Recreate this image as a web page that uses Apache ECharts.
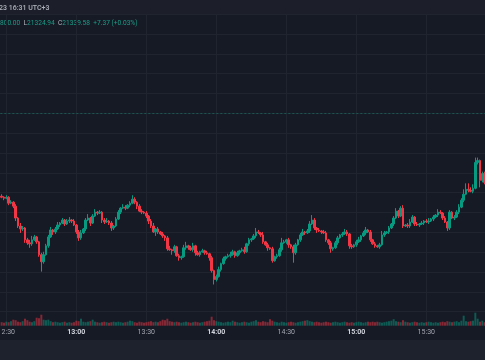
<!DOCTYPE html>
<html><head><meta charset="utf-8">
<script src="https://cdn.jsdelivr.net/npm/echarts@6/dist/echarts.min.js"></script>
<style>html,body{margin:0;padding:0;background:#161a25;overflow:hidden}#c{width:485px;height:360px}</style>
</head><body><div id="c"></div>
<script>
// ---- data (1-minute candles, first one at 12:28) ----
const startMinute = 28;          // minutes after 12:00
const firstOpen = 21328.2;
const closes = [
21327.7,21327.2,21327.7,21324.7,21325.2,21323.2,21317.2,21313.2,21311.7,21312.2,
21306.2,21304.7,21304.2,21306.2,21307.7,21305.2,21298.7,21295.2,21298.7,21303.2,
21307.7,21311.2,21310.2,21311.7,21313.7,21314.7,21316.2,21314.2,21315.7,21316.2,
21315.7,21313.7,21310.2,21307.2,21309.7,21311.7,21316.2,21317.2,21314.7,21318.2,
21320.2,21319.7,21320.2,21316.2,21315.2,21315.7,21314.7,21312.2,21313.2,21316.7,
21320.2,21322.2,21322.7,21322.2,21323.7,21324.7,21326.7,21325.2,21323.2,21320.7,
21320.2,21319.7,21318.2,21315.7,21313.2,21310.2,21311.7,21310.2,21309.2,21308.2,
21307.2,21301.7,21301.2,21300.7,21302.7,21298.2,21297.2,21297.7,21302.2,21303.2,
21302.2,21301.2,21303.2,21299.7,21298.7,21300.2,21300.7,21299.7,21299.2,21297.2,
21290.7,21286.2,21287.7,21291.2,21294.2,21296.7,21297.7,21298.2,21298.7,21300.2,
21298.2,21299.7,21300.7,21301.2,21300.2,21304.2,21306.2,21306.7,21308.2,21310.2,
21309.7,21308.7,21305.2,21303.7,21302.2,21301.7,21295.7,21297.7,21298.2,21301.2,
21304.7,21305.2,21306.2,21303.7,21302.7,21299.7,21303.7,21306.2,21308.7,21310.2,
21309.7,21310.7,21314.2,21316.2,21312.2,21311.2,21310.7,21310.2,21309.7,21306.2,
21304.7,21301.7,21302.2,21304.7,21307.2,21308.7,21309.2,21310.2,21309.2,21303.2,
21302.7,21303.7,21305.2,21306.2,21308.2,21309.7,21311.2,21310.2,21306.2,21304.2,
21303.2,21302.7,21303.7,21308.7,21309.7,21310.2,21312.2,21314.2,21317.2,21320.7,
21318.2,21322.2,21313.2,21313.7,21313.2,21315.2,21317.7,21314.2,21313.7,21314.2,
21314.7,21315.7,21315.2,21315.7,21316.7,21317.7,21318.7,21320.2,21319.7,21317.2,
21315.2,21312.2,21320.2,21317.2,21317.7,21320.2,21322.7,21326.2,21329.2,21331.7,
21331.2,21330.7,21332.2,21345.2,21346.2,21336.2,21339.6,21335.2
];
const upperWicks = [
1,0.5,1,0.5,1,0.5,1,0.5,1.5,1, 0.5,1,1.5,2,1,0.5,0.5,1,1.5,1,
1,1.5,0.5,1,1.5,0.5,1,0.5,1,1.5, 0.5,1,0.5,1,1.5,0.5,1,2,0.5,1,
1.5,0.5,1,0.5,1,1.5,0.5,1,0.5,1, 1,0.5,1.5,1,0.5,1,2,1,0.5,1,
1,0.5,1,0.5,1,1.5,0.5,1,0.5,1, 0.5,1,1.5,0.5,1,0.5,1,0.5,1.5,2,
0.5,1,1.5,0.5,1,0.5,1,0.5,1,0.5, 1,0.5,1,1.5,0.5,1,0.5,1,1.5,1,
0.5,1,0.5,1,1.5,0.5,1,0.5,1,2, 1,0.5,1.5,0.5,1,0.5,1,0.5,1,1,
2.5,1,0.5,1,0.5,1,1,0.5,1,1.5, 0.5,1,1.5,2.5,1,0.5,1,0.5,1,1,
0.5,1,0.5,1,1,0.5,1,1.5,1,0.5, 1,0.5,1,1.5,0.5,1,1.5,0.5,1,0.5,
1,0.5,1,2,1,0.5,1,0.5,1,1.5, 0.5,1,1.5,0.5,1,1.5,1,0.5,1,0.5,
1,0.5,1,1.5,0.5,1,0.5,1.5,1,0.5, 1,0.5,1,0.5,1,1,1.5,1,2.5,3,
3,1.5,2,2.5,1.5,0.5,1,1
];
const lowerWicks = [
0.5,1,0.5,1,0.5,1,1.5,1,2,1, 1.5,1,2,1,0.5,1,1,5,1,0.5,
1,0.5,1.5,1,0.5,1,0.5,1,0.5,1, 1,0.5,1,1.5,1,0.5,1,0.5,1.5,0.5,
0.5,1,0.5,1.5,1,0.5,1,1.5,1,0.5, 0.5,1,0.5,1,0.5,1,0.5,1,1.5,0.5,
1,0.5,1,1.5,1,0.5,2,1,0.5,1, 1.5,1,0.5,2,1,0.5,1.5,1,0.5,1,
1,0.5,1,1.5,0.5,1,0.5,1,0.5,1.5, 1,2.5,1,0.5,1,0.5,1,0.5,1,0.5,
1,0.5,1,0.5,1,0.5,1,1,0.5,1, 0.5,1,1,0.5,1.5,0.5,1,0.5,1,0.5,
1,0.5,1,1.5,1,5,1,0.5,1,0.5, 1,0.5,1,0.5,1,1.5,0.5,1,0.5,1,
1,2,1,0.5,1,0.5,1,0.5,1,1.5, 1,0.5,1,0.5,1,0.5,1,0.5,1,0.5,
1,0.5,1,0.5,1,0.5,1,0.5,1,0.5, 1,0.5,1,0.5,1,1,0.5,1,0.5,1,
0.5,1,0.5,1,0.5,1,0.5,1,0.5,1, 0.5,1.5,1,0.5,1,0.5,1,0.5,1,0.5,
1,0.5,1,0.5,1,3.5,1,1
];
const volumes = [
350,300,400,350,450,600,550,400,350,450, 700,550,400,350,450,800,750,1100,600,550,
600,450,350,400,350,300,350,400,300,350, 300,350,500,450,700,400,350,400,450,600,
400,350,300,350,400,350,300,350,400,350, 400,350,300,350,400,500,450,350,300,400,
350,300,350,400,450,350,400,350,450,600, 550,700,450,400,350,400,350,300,350,400,
350,300,350,400,350,300,350,400,450,500, 900,550,450,400,350,300,350,400,350,500,
400,350,300,350,400,350,300,400,450,550, 400,350,450,400,350,650,500,400,350,300,
400,350,300,350,400,350,300,350,400,450, 500,550,450,400,350,400,350,300,350,400,
350,300,350,400,350,300,350,400,350,300, 350,300,350,400,350,300,350,400,350,400,
350,400,350,300,350,400,450,500,650,450, 400,350,550,400,350,300,350,400,350,300,
350,300,350,400,350,300,350,300,350,400, 350,450,400,350,400,450,350,500,1000,450,
400,450,500,1300,700,400,500,350
];
const timeTicks = ['12:00','12:30','13:00','13:30','14:00','14:30','15:00','15:30','16:00'];
const prevCloseLevel = 21370;
const headerText = '23 16:31 UTC+3';
const legendText = '{u|800.00}  {g|L}{u|21324.94}  {g|C}{u|21339.58}  {u|+7.37 (+0.03%)}';

// ---- build ----
const UP = '#089981', DOWN = '#f23645';
const UPV = 'rgba(8,153,129,0.5)', DOWNV = 'rgba(242,54,69,0.5)';
const GRID = '#20242f';
const candles = [], vols = [];
closes.forEach((c, i) => {
  const o = i ? closes[i-1] : firstOpen;
  const h = Math.max(o, c) + upperWicks[i];
  const l = Math.min(o, c) - lowerWicks[i];
  const m = startMinute + i;
  candles.push([m, o, c, l, h]);
  vols.push({ value: [m, volumes[i]], itemStyle: { color: c >= o ? UPV : DOWNV } });
});

const graphics = [
  { type: 'rect', shape: { x: 0, y: 0, width: 485, height: 14 }, style: { fill: '#1c1f29' }, z: -1 },
  { type: 'line', shape: { x1: 0, y1: 14.5, x2: 485, y2: 14.5 }, style: { stroke: '#2a2e39', lineWidth: 1 } },
  { type: 'rect', shape: { x: 0, y: 340, width: 485, height: 20 }, style: { fill: '#1e222d' } },
  { type: 'text', x: -1, y: 8, style: { text: headerText, fill: '#b2b5be', font: '500 7px Roboto', verticalAlign: 'middle' } },
  { type: 'text', x: 0, y: 23.5, style: { text: legendText, verticalAlign: 'middle', fontSize: 6.6, fontFamily: 'Roboto',
      rich: { u: { fill: '#1b9e88', fontSize: 6.6, fontFamily: 'Roboto' }, g: { fill: '#b2b5be', fontSize: 6.6, fontFamily: 'Roboto' } } } }
];

const fmt = v => {
  const s = timeTicks[Math.round(v / 30)] || '';
  return s.endsWith(':00') ? '{b|' + s + '}' : '{n|' + s + '}';
};

const chart = echarts.init(document.getElementById('c'), null, { renderer: 'canvas' });
chart.setOption({
  animation: false,
  backgroundColor: '#161a25',
  grid: [
    { left: -63.67, width: 560, top: 14.17, height: 297.5, outerBoundsMode: 'none', containLabel: false },
    { left: -63.67, width: 560, top: 299.7, height: 26, outerBoundsMode: 'none', containLabel: false }
  ],
  xAxis: [
    { type: 'value', gridIndex: 0, min: 0, max: 240, interval: 30,
      axisLine: { show: false }, axisTick: { show: false }, axisLabel: { show: false },
      splitLine: { show: true, lineStyle: { color: GRID, width: 1 } } },
    { type: 'value', gridIndex: 1, min: 0, max: 240, interval: 30,
      axisLine: { show: false }, axisTick: { show: false },
      axisLabel: { show: true, margin: 3, formatter: fmt,
        rich: { b: { fontSize: 7, fontWeight: 'bold', color: '#d1d4dc', fontFamily: 'Roboto' },
                n: { fontSize: 7, color: '#a3a6af', fontFamily: 'Roboto' } } },
      splitLine: { show: true, lineStyle: { color: GRID, width: 1 } } }
  ],
  yAxis: [
    { type: 'value', gridIndex: 0, min: 21270, max: 21420, interval: 10, scale: true,
      axisLine: { show: false }, axisTick: { show: false }, axisLabel: { show: false },
      splitLine: { show: true, lineStyle: { color: GRID, width: 1 } } },
    { type: 'value', gridIndex: 1, min: 0, max: 2600,
      axisLine: { show: false }, axisTick: { show: false }, axisLabel: { show: false },
      splitLine: { show: false } }
  ],
  series: [
    { type: 'bar', xAxisIndex: 1, yAxisIndex: 1, data: vols, barWidth: 2, z: 1 },
    { type: 'candlestick', xAxisIndex: 0, yAxisIndex: 0, data: candles,
      encode: { x: 0, y: [1, 2, 3, 4] }, barWidth: 2, z: 3,
      itemStyle: { color: UP, color0: DOWN, borderColor: UP, borderColor0: DOWN, borderWidth: 1 },
      markLine: { silent: true, symbol: ['none', 'none'], label: { show: false },
        lineStyle: { color: 'rgba(8,153,129,0.45)', type: [2, 2], width: 1 },
        data: [{ yAxis: prevCloseLevel }] } }
  ],
  graphic: graphics
});
</script></body></html>
